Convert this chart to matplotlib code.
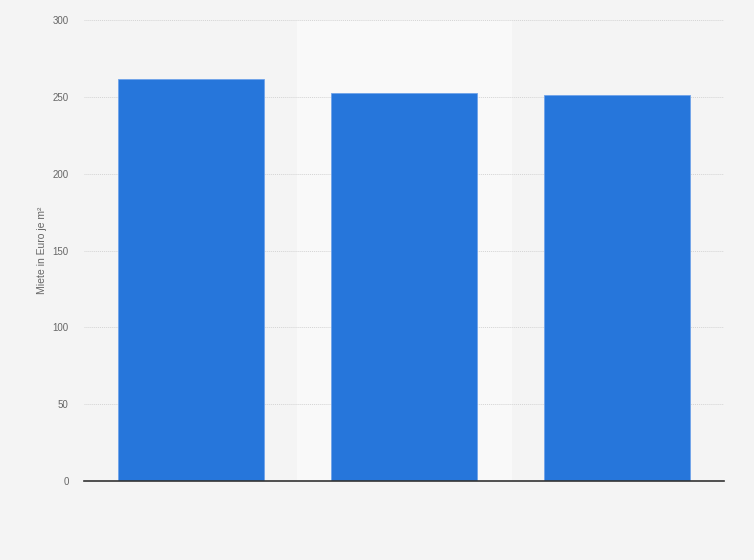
import matplotlib
matplotlib.use('Agg')
import matplotlib.pyplot as plt

plt.rcParams['font.family'] = ['Liberation Sans', 'DejaVu Sans']

categories = ['A', 'B', 'C']
rents = [262, 252.6, 251.5]
y_ticks = [0, 50, 100, 150, 200, 250, 300]

BG = '#f4f4f4'
BLUE = '#2676db'

fig = plt.figure(figsize=(7.54, 5.6), dpi=100, facecolor=BG)
ax = fig.add_axes([0.1114, 0.141, 0.8488, 0.823])
ax.set_facecolor(BG)

x = list(range(len(categories)))
# highlighted middle column
ax.axvspan(0.5, 1.5, color='#f9f9f9', zorder=0)
ax.bar(x, rents, width=0.685, color=BLUE, edgecolor='#6fa3ea', linewidth=0.6, zorder=3)

ax.set_xlim(-0.5, 2.5)
ax.set_ylim(0, 300)
ax.set_yticks(y_ticks)
ax.set_yticklabels([str(t) for t in y_ticks], fontsize=7, color='#666666')
ax.set_xticks([])
ax.tick_params(axis='y', length=0, pad=11)
ax.grid(axis='y', color='#d4d4d4', linestyle=(0, (1, 1)), linewidth=0.7, zorder=1)
for side in ['top', 'right', 'left']:
    ax.spines[side].set_visible(False)
ax.spines['bottom'].set_color('#333333')
ax.spines['bottom'].set_linewidth(1.2)
ax.spines['bottom'].set_zorder(4)

ax.set_ylabel('Miete in Euro je m²', fontsize=7.5, color='#666666', labelpad=4)

fig.savefig('out.png', dpi=100, facecolor=BG)
